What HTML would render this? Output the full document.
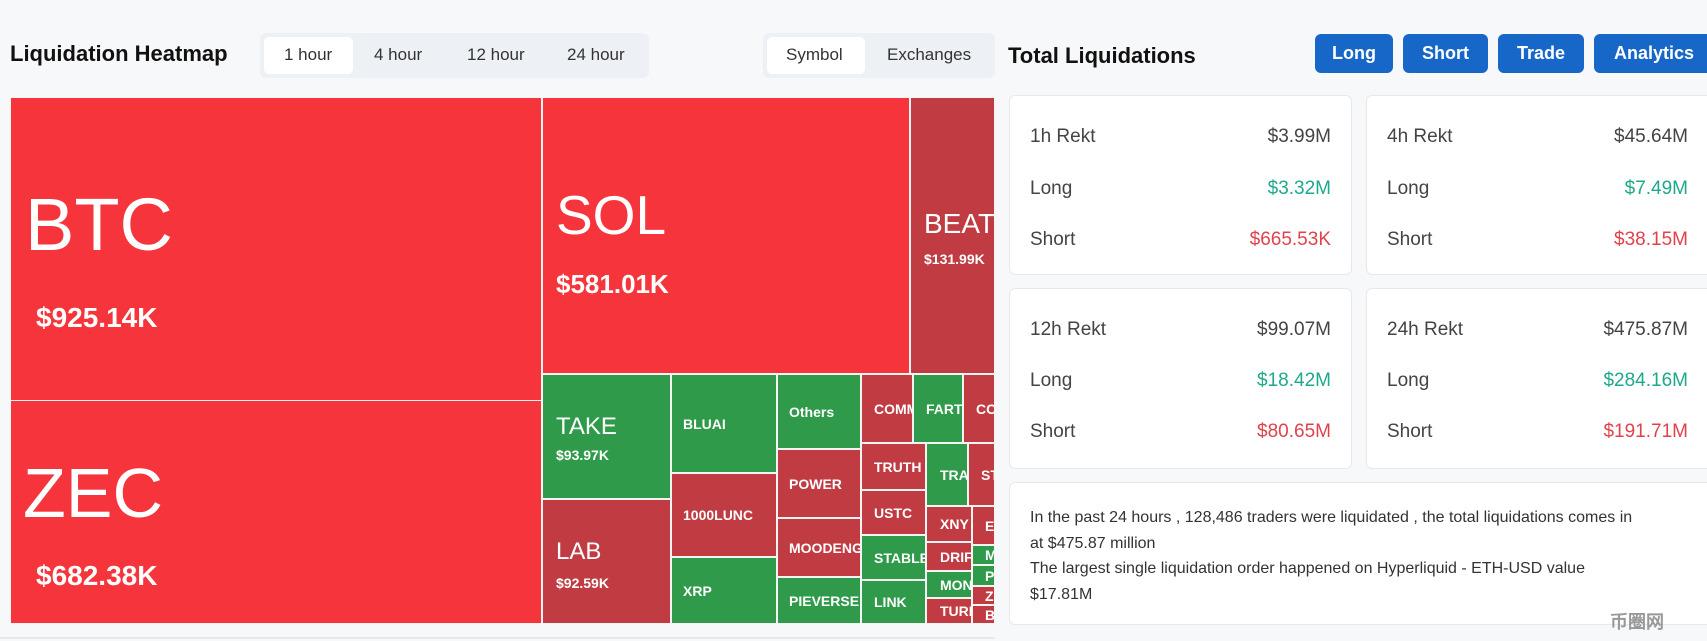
<!DOCTYPE html>
<html><head><meta charset="utf-8"><style>
*{box-sizing:border-box;margin:0;padding:0}
body{width:1707px;height:641px;background:#f7f8fa;font-family:"Liberation Sans",sans-serif;position:relative;overflow:hidden;color:#222}
.a{position:absolute}
.c{position:absolute;border:1px solid #f4f4f4;color:#fff;overflow:hidden;white-space:nowrap;font-weight:bold}
.r{background:#f5353b}.d{background:#c03b42}.g{background:#2e9a4a}
.s{font-size:14px;font-weight:bold;padding-left:11px;display:flex;align-items:center}
.btn{position:absolute;top:34px;height:39px;background:#1767c9;color:#fff;border-radius:6px;font-weight:bold;font-size:18px;display:flex;align-items:center;justify-content:center}
.card{position:absolute;background:#fff;border:1px solid #e6e8ec;border-radius:6px}
.row{position:absolute;left:20px;right:20px;display:flex;justify-content:space-between;font-size:19px;color:#444}
.gr{color:#1ea88c}.rd{color:#e0424c}
</style></head><body>
<div class="a" style="left:10px;top:41px;font-size:22px;font-weight:bold;color:#111">Liquidation Heatmap</div>
<div class="a" style="left:260px;top:33px;width:389px;height:45px;background:#edf0f4;border-radius:6px"></div>
<div class="a" style="left:264px;top:37px;width:89px;height:37px;background:#fff;border-radius:5px"></div>
<div class="a" style="left:284px;top:45px;font-size:17px;color:#333">1 hour</div>
<div class="a" style="left:374px;top:45px;font-size:17px;color:#333">4 hour</div>
<div class="a" style="left:467px;top:45px;font-size:17px;color:#333">12 hour</div>
<div class="a" style="left:567px;top:45px;font-size:17px;color:#333">24 hour</div>
<div class="a" style="left:763px;top:33px;width:232px;height:45px;background:#edf0f4;border-radius:6px"></div>
<div class="a" style="left:767px;top:37px;width:98px;height:37px;background:#fff;border-radius:5px"></div>
<div class="a" style="left:786px;top:45px;font-size:17px;color:#333">Symbol</div>
<div class="a" style="left:887px;top:45px;font-size:17px;color:#333">Exchanges</div>

<div class="c r" style="left:10px;top:97px;width:532px;height:304px"><div class="a" style="left:14px;top:84px;font-size:74px;font-weight:normal">BTC</div><div class="a" style="left:25px;top:204px;font-size:28px">$925.14K</div></div>
<div class="c r" style="left:10px;top:400px;width:532px;height:224px"><div class="a" style="left:12px;top:52px;font-size:70px;font-weight:normal">ZEC</div><div class="a" style="left:25px;top:159px;font-size:28px">$682.38K</div></div>
<div class="c r" style="left:542px;top:97px;width:368px;height:277px"><div class="a" style="left:13px;top:85px;font-size:55px;font-weight:normal">SOL</div><div class="a" style="left:13px;top:171px;font-size:26px">$581.01K</div></div>
<div class="c d" style="left:910px;top:97px;width:85px;height:277px"><div class="a" style="left:13px;top:110px;font-size:28px;font-weight:normal">BEAT</div><div class="a" style="left:13px;top:153px;font-size:14px">$131.99K</div></div>
<div class="c g" style="left:542px;top:374px;width:129px;height:125px"><div class="a" style="left:13px;top:38px;font-size:24px;font-weight:normal">TAKE</div><div class="a" style="left:13px;top:72px;font-size:14px">$93.97K</div></div>
<div class="c d" style="left:542px;top:499px;width:129px;height:125px"><div class="a" style="left:13px;top:38px;font-size:24px;font-weight:normal">LAB</div><div class="a" style="left:13px;top:75px;font-size:14px">$92.59K</div></div>
<div class="c g s" style="left:671px;top:374px;width:106px;height:99px">BLUAI</div>
<div class="c d s" style="left:671px;top:473px;width:106px;height:84px">1000LUNC</div>
<div class="c g s" style="left:671px;top:557px;width:106px;height:67px">XRP</div>
<div class="c g s" style="left:777px;top:374px;width:84px;height:75px">Others</div>
<div class="c d s" style="left:777px;top:449px;width:84px;height:69px">POWER</div>
<div class="c d s" style="left:777px;top:518px;width:84px;height:59px">MOODENG</div>
<div class="c g s" style="left:777px;top:577px;width:84px;height:47px">PIEVERSE</div>
<div class="c d s" style="left:861px;top:374px;width:52px;height:69px;padding-left:12px">COMM</div>
<div class="c g s" style="left:913px;top:374px;width:50px;height:69px;padding-left:12px">FART</div>
<div class="c d s" style="left:963px;top:374px;width:32px;height:69px;padding-left:12px">CC</div>
<div class="c d s" style="left:861px;top:443px;width:65px;height:47px;padding-left:12px">TRUTH</div>
<div class="c d s" style="left:861px;top:490px;width:65px;height:45px;padding-left:12px">USTC</div>
<div class="c g s" style="left:861px;top:535px;width:65px;height:45px;padding-left:12px">STABLE</div>
<div class="c g s" style="left:861px;top:580px;width:65px;height:44px;padding-left:12px">LINK</div>
<div class="c g s" style="left:926px;top:443px;width:42px;height:63px;padding-left:13px">TRA</div>
<div class="c d s" style="left:968px;top:443px;width:27px;height:63px;padding-left:12px">ST</div>
<div class="c d s" style="left:926px;top:506px;width:46px;height:36px;padding-left:13px">XNY</div>
<div class="c d s" style="left:926px;top:542px;width:46px;height:29px;padding-left:13px">DRIF</div>
<div class="c g s" style="left:926px;top:571px;width:46px;height:27px;padding-left:13px">MON</div>
<div class="c d s" style="left:926px;top:598px;width:46px;height:26px;padding-left:13px">TURB</div>
<div class="c d s" style="left:972px;top:506px;width:23px;height:39px;padding-left:12px">E</div>
<div class="c g s" style="left:972px;top:545px;width:23px;height:20px;padding-left:12px">M</div>
<div class="c g s" style="left:972px;top:565px;width:23px;height:21px;padding-left:12px">P</div>
<div class="c d s" style="left:972px;top:586px;width:23px;height:19px;padding-left:12px">Z</div>
<div class="c d s" style="left:972px;top:605px;width:23px;height:19px;padding-left:12px">B</div>
<div class="a" style="left:0;top:637px;width:995px;height:2px;background:#e6e8ec"></div>

<div class="a" style="left:1008px;top:43px;font-size:22px;font-weight:bold;color:#111">Total Liquidations</div>
<div class="btn" style="left:1315px;width:78px">Long</div>
<div class="btn" style="left:1403px;width:85px">Short</div>
<div class="btn" style="left:1498px;width:86px">Trade</div>
<div class="btn" style="left:1594px;width:120px">Analytics</div>

<div class="card" style="left:1009px;top:95px;width:343px;height:180px">
<div class="row" style="top:30px"><span>1h Rekt</span><span>$3.99M</span></div>
<div class="row" style="top:82px"><span>Long</span><span class="gr">$3.32M</span></div>
<div class="row" style="top:133px"><span>Short</span><span class="rd">$665.53K</span></div></div>
<div class="card" style="left:1366px;top:95px;width:350px;height:180px">
<div class="row" style="top:30px;right:27px"><span>4h Rekt</span><span>$45.64M</span></div>
<div class="row" style="top:82px;right:27px"><span>Long</span><span class="gr">$7.49M</span></div>
<div class="row" style="top:133px;right:27px"><span>Short</span><span class="rd">$38.15M</span></div></div>
<div class="card" style="left:1009px;top:288px;width:343px;height:181px">
<div class="row" style="top:30px"><span>12h Rekt</span><span>$99.07M</span></div>
<div class="row" style="top:81px"><span>Long</span><span class="gr">$18.42M</span></div>
<div class="row" style="top:132px"><span>Short</span><span class="rd">$80.65M</span></div></div>
<div class="card" style="left:1366px;top:288px;width:350px;height:181px">
<div class="row" style="top:30px;right:27px"><span>24h Rekt</span><span>$475.87M</span></div>
<div class="row" style="top:81px;right:27px"><span>Long</span><span class="gr">$284.16M</span></div>
<div class="row" style="top:132px;right:27px"><span>Short</span><span class="rd">$191.71M</span></div></div>
<div class="card" style="left:1009px;top:482px;width:707px;height:143px">
<div class="a" style="left:20px;top:22px;width:660px;font-size:16px;line-height:25.5px;color:#333">In the past 24 hours , 128,486 traders were liquidated , the total liquidations comes in<br>at $475.87 million<br>The largest single liquidation order happened on Hyperliquid - ETH-USD value<br>$17.81M</div></div>
<div class="a" style="left:1610px;top:608px;font-size:18px;color:#999;font-weight:bold">币圈网</div>
</body></html>
